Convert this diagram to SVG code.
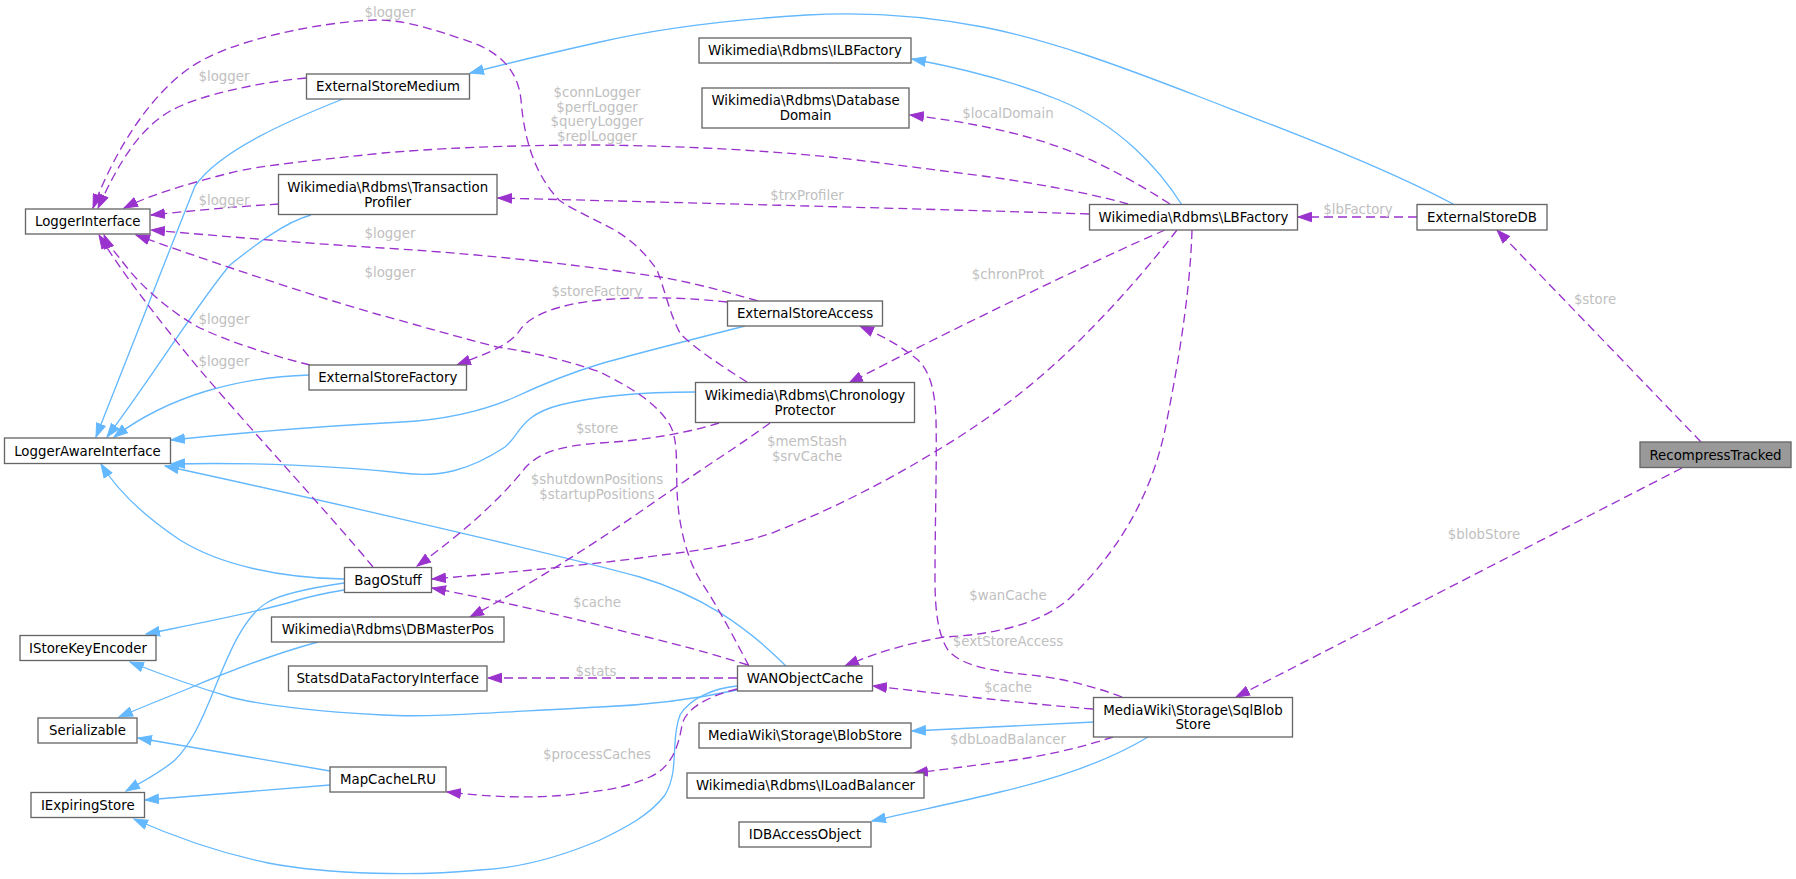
<svg xmlns="http://www.w3.org/2000/svg" width="1796" height="879" viewBox="0 0 1796 879">
<style>
.n rect{fill:#fff;stroke:#666;stroke-width:1.33}
.n.hl rect{fill:#999}
.n text{font-family:"DejaVu Sans",sans-serif;font-size:13.33px;text-anchor:middle;fill:#000}
.inh{fill:none;stroke:#63b8ff;stroke-width:1.33;marker-end:url(#ab)}
.use{fill:none;stroke:#9a32cd;stroke-width:1.33;stroke-dasharray:9,5;marker-end:url(#ap)}
.lbl{font-family:"DejaVu Sans",sans-serif;font-size:13.33px;text-anchor:middle;fill:#c0c0c0}
</style>
<defs>
<marker id="ab" markerUnits="userSpaceOnUse" markerWidth="15" markerHeight="11" viewBox="0 0 15 11" refX="14" refY="5.5" orient="auto"><path d="M0.5,0.8 L14,5.5 L0.5,10.2 z" fill="#63b8ff" stroke="#63b8ff" stroke-width="1"/></marker>
<marker id="ap" markerUnits="userSpaceOnUse" markerWidth="15" markerHeight="11" viewBox="0 0 15 11" refX="14" refY="5.5" orient="auto"><path d="M0.5,0.8 L14,5.5 L0.5,10.2 z" fill="#9a32cd" stroke="#9a32cd" stroke-width="1"/></marker>
</defs>
<rect width="1796" height="879" fill="#fff"/>
<g id="connectors">
<path class="inh" d="M1455,205 C1380,165 1280,128 1200,97 C1120,66 1050,40 983,27 C920,15 860,12 807,15 C740,19 660,28 600,42 C560,51 520,60 470,73"/>
<path class="inh" d="M1182,205 C1160,170 1120,125 1059,100 C1010,80 960,68 912,59"/>
<path class="inh" d="M343,99 C290,120 220,150 195,186 L96,437"/>
<path class="inh" d="M311,215 C285,222 255,245 230,265 C200,300 150,380 107,437"/>
<path class="inh" d="M309,375 C240,377 170,395 114,437"/>
<path class="inh" d="M745,326 C690,340 620,358 600,364 C560,376 530,390 513,398 C480,412 440,420 402,422 C320,426 240,433 171,440"/>
<path class="inh" d="M696,392 C650,392 600,395 560,405 C520,415 520,435 505,447 C470,470 440,478 402,473 C340,466 250,462 171,464"/>
<path class="inh" d="M786,666 C745,625 700,595 640,577 C560,555 300,495 165,466"/>
<path class="inh" d="M344,579 C280,578 220,565 180,540 C150,520 120,495 101,464"/>
<path class="inh" d="M344,590 C320,594 305,598 298,600 C260,612 190,625 146,634"/>
<path class="inh" d="M344,583 C310,588 280,595 268,602 C245,615 230,650 214,690 C200,725 190,745 175,760 C160,773 140,783 126,791"/>
<path class="inh" d="M318,642 C270,655 220,675 185,690 C160,700 140,708 119,717"/>
<path class="inh" d="M737,690 C700,698 650,705 600,707 C500,712 430,718 383,715 C320,712 260,705 230,697 C200,688 160,674 130,662"/>
<path class="inh" d="M737,686 C715,688 690,698 680,715 C670,740 680,770 665,795 C650,815 625,828 600,840 C560,857 520,868 480,870 C420,876 330,875 268,863 C220,853 170,835 134,819"/>
<path class="inh" d="M330,771 L138,738"/>
<path class="inh" d="M330,785 L145,800"/>
<path class="inh" d="M1094,722 L912,731"/>
<path class="inh" d="M1148,737 C1110,760 1060,778 1000,792 C960,802 910,812 872,821"/>
<path class="use" d="M306,78 C260,82 200,95 172,110 C140,128 120,160 98,208"/>
<path class="use" d="M747,382 C720,365 690,345 680,333 C670,315 665,290 657,270 C640,245 620,232 603,224 C585,215 565,205 559,200 C540,180 525,150 521,100 C518,70 500,50 459,38 C420,25 400,20 375,20 C320,22 230,40 191,67 C150,95 115,150 93,208"/>
<path class="use" d="M1128,204 C1080,190 1000,178 983,176 C920,168 860,160 830,157 C760,150 680,146 600,145 C500,145 430,149 383,153 C320,160 260,165 230,173 C190,183 150,195 124,208"/>
<path class="use" d="M279,204 C230,207 190,211 151,215"/>
<path class="use" d="M758,301 C720,290 690,282 660,277 C600,268 500,255 383,248 C300,243 220,236 151,230"/>
<path class="use" d="M749,666 C735,640 720,610 700,580 C685,555 678,520 677,490 C676,460 678,440 670,425 C655,400 625,385 600,372 C560,358 520,350 497,347 C450,335 400,320 380,315 C300,292 200,258 136,235"/>
<path class="use" d="M310,365 C270,355 230,342 200,328 C170,312 140,285 125,265 C115,252 108,245 104,235"/>
<path class="use" d="M373,567 C330,515 260,440 200,370 C160,322 120,270 99,235"/>
<path class="use" d="M748,665 C700,650 660,640 630,633 C580,620 520,605 432,588"/>
<path class="use" d="M1089,214 C1000,211 700,203 498,198"/>
<path class="use" d="M1170,204 C1130,178 1090,158 1059,147 C1020,133 970,122 910,115"/>
<path class="use" d="M1165,230 C1100,258 950,330 849,383"/>
<path class="use" d="M1192,230 C1190,300 1175,380 1165,430 C1150,500 1115,555 1070,598 C1040,625 990,635 944,637 C900,645 870,655 845,666"/>
<path class="use" d="M1177,230 C1150,265 1120,300 1080,340 C1030,390 980,425 933,453 C880,485 830,510 772,533 C720,550 680,552 640,558 C560,568 480,575 432,579"/>
<path class="use" d="M1417,217 L1298,217"/>
<path class="use" d="M1701,442 L1497,230"/>
<path class="use" d="M1682,468 L1236,697"/>
<path class="use" d="M727,302 C690,298 650,296 600,300 C560,304 530,315 520,330 C510,345 490,352 457,365"/>
<path class="use" d="M770,423 C740,445 700,470 650,505 C600,540 530,585 470,617"/>
<path class="use" d="M737,678 L488,678"/>
<path class="use" d="M737,689 C705,697 685,710 682,725 C678,750 670,768 650,777 C630,786 610,790 590,792 C540,800 490,797 447,792"/>
<path class="use" d="M1122,697 C1090,685 1060,678 1030,675 C990,671 960,665 948,650 C938,635 935,610 935,580 C935,520 937,460 936,420 C935,390 930,372 918,360 C900,345 880,335 860,326"/>
<path class="use" d="M1093,709 C1050,706 960,696 873,686"/>
<path class="use" d="M1113,737 C1080,748 1040,757 1000,762 C970,766 940,770 914,773"/>
<path class="use" d="M719,423 C690,432 650,440 600,443 C560,446 540,452 525,468 C500,500 460,535 417,566"/>
</g>
<g id="labels">
<text class="lbl" x="390" y="17">$logger</text>
<text class="lbl" x="224" y="81">$logger</text>
<text class="lbl" x="597" y="97">$connLogger</text>
<text class="lbl" x="597" y="111.7">$perfLogger</text>
<text class="lbl" x="597" y="126.3">$queryLogger</text>
<text class="lbl" x="597" y="141">$replLogger</text>
<text class="lbl" x="1008" y="118">$localDomain</text>
<text class="lbl" x="807" y="200">$trxProfiler</text>
<text class="lbl" x="224" y="205">$logger</text>
<text class="lbl" x="1358" y="214">$lbFactory</text>
<text class="lbl" x="390" y="238">$logger</text>
<text class="lbl" x="390" y="277">$logger</text>
<text class="lbl" x="1008" y="279">$chronProt</text>
<text class="lbl" x="597" y="296">$storeFactory</text>
<text class="lbl" x="1595" y="304">$store</text>
<text class="lbl" x="224" y="324">$logger</text>
<text class="lbl" x="224" y="366">$logger</text>
<text class="lbl" x="597" y="433">$store</text>
<text class="lbl" x="807" y="446">$memStash</text>
<text class="lbl" x="807" y="460.7">$srvCache</text>
<text class="lbl" x="597" y="484">$shutdownPositions</text>
<text class="lbl" x="597" y="498.7">$startupPositions</text>
<text class="lbl" x="1484" y="539">$blobStore</text>
<text class="lbl" x="1008" y="600">$wanCache</text>
<text class="lbl" x="597" y="607">$cache</text>
<text class="lbl" x="1008" y="646">$extStoreAccess</text>
<text class="lbl" x="596" y="676">$stats</text>
<text class="lbl" x="1008" y="692">$cache</text>
<text class="lbl" x="1008" y="744">$dbLoadBalancer</text>
<text class="lbl" x="597" y="759">$processCaches</text>
</g>
<g id="ExternalStoreMedium" class="n"><rect x="306.5" y="74" width="163" height="25"/><text x="388" y="91.2">ExternalStoreMedium</text></g>
<g id="ILBFactory" class="n"><rect x="699" y="38" width="212" height="25"/><text x="805" y="55.2">Wikimedia\Rdbms\ILBFactory</text></g>
<g id="DatabaseDomain" class="n"><rect x="702" y="88" width="207" height="40"/><text x="805.5" y="105.4">Wikimedia\Rdbms\Database</text><text x="805.5" y="120">Domain</text></g>
<g id="TransactionProfiler" class="n"><rect x="278.5" y="174.5" width="218.5" height="40"/><text x="387.75" y="191.9">Wikimedia\Rdbms\Transaction</text><text x="387.75" y="206.5">Profiler</text></g>
<g id="LoggerInterface" class="n"><rect x="25.5" y="209" width="124.5" height="25"/><text x="87.75" y="226.2">LoggerInterface</text></g>
<g id="LBFactory" class="n"><rect x="1089.5" y="204.5" width="208" height="25.5"/><text x="1193.5" y="222">Wikimedia\Rdbms\LBFactory</text></g>
<g id="ExternalStoreDB" class="n"><rect x="1417" y="204.5" width="130" height="25.5"/><text x="1482" y="222">ExternalStoreDB</text></g>
<g id="ExternalStoreAccess" class="n"><rect x="727.5" y="301" width="155" height="25"/><text x="805" y="318.2">ExternalStoreAccess</text></g>
<g id="ExternalStoreFactory" class="n"><rect x="309" y="365" width="157.5" height="25"/><text x="387.75" y="382.2">ExternalStoreFactory</text></g>
<g id="ChronologyProtector" class="n"><rect x="695.5" y="382.5" width="219" height="40"/><text x="805" y="399.9">Wikimedia\Rdbms\Chronology</text><text x="805" y="414.5">Protector</text></g>
<g id="LoggerAwareInterface" class="n"><rect x="4.5" y="438" width="166" height="25.5"/><text x="87.5" y="455.5">LoggerAwareInterface</text></g>
<g id="RecompressTracked" class="n hl"><rect x="1640" y="442" width="151" height="25.5"/><text x="1715.5" y="459.5">RecompressTracked</text></g>
<g id="BagOStuff" class="n"><rect x="344.5" y="567.5" width="87" height="25"/><text x="388" y="584.7">BagOStuff</text></g>
<g id="DBMasterPos" class="n"><rect x="271.5" y="617" width="232.5" height="25"/><text x="387.75" y="634.2">Wikimedia\Rdbms\DBMasterPos</text></g>
<g id="IStoreKeyEncoder" class="n"><rect x="20" y="635.5" width="136" height="25"/><text x="88" y="652.7">IStoreKeyEncoder</text></g>
<g id="StatsdDataFactoryInterface" class="n"><rect x="288.5" y="666" width="198.5" height="25"/><text x="387.75" y="683.2">StatsdDataFactoryInterface</text></g>
<g id="WANObjectCache" class="n"><rect x="737.5" y="666" width="135" height="25"/><text x="805" y="683.2">WANObjectCache</text></g>
<g id="SqlBlobStore" class="n"><rect x="1093.5" y="697.5" width="199" height="39.5"/><text x="1193" y="714.6">MediaWiki\Storage\SqlBlob</text><text x="1193" y="729.3">Store</text></g>
<g id="Serializable" class="n"><rect x="38" y="718" width="99" height="25"/><text x="87.5" y="735.2">Serializable</text></g>
<g id="BlobStore" class="n"><rect x="699" y="723" width="212" height="25"/><text x="805" y="740.2">MediaWiki\Storage\BlobStore</text></g>
<g id="MapCacheLRU" class="n"><rect x="330" y="767" width="116" height="25"/><text x="388" y="784.2">MapCacheLRU</text></g>
<g id="ILoadBalancer" class="n"><rect x="687" y="773" width="237" height="25"/><text x="805.5" y="790.2">Wikimedia\Rdbms\ILoadBalancer</text></g>
<g id="IExpiringStore" class="n"><rect x="31" y="792.5" width="113.5" height="25"/><text x="87.75" y="809.7">IExpiringStore</text></g>
<g id="IDBAccessObject" class="n"><rect x="739" y="822" width="132" height="25"/><text x="805" y="839.2">IDBAccessObject</text></g>
</svg>
